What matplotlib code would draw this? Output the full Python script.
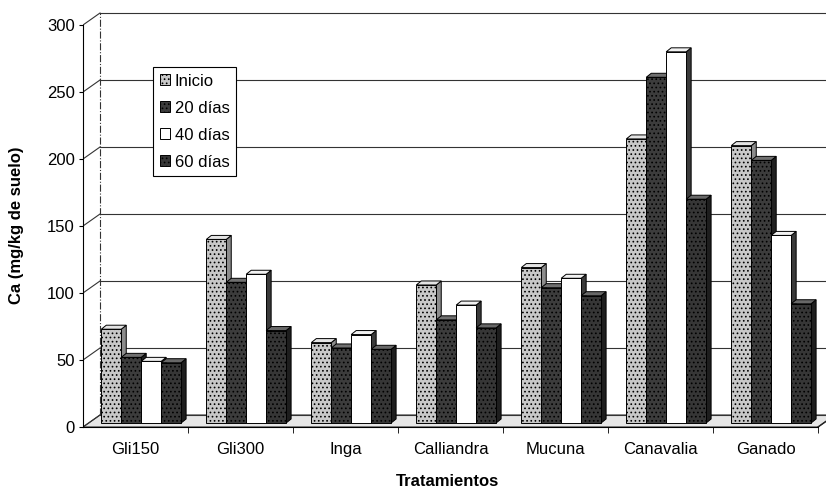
import numpy as np
import matplotlib.pyplot as plt
from matplotlib.patches import Polygon, Patch

plt.rcParams['font.family'] = ['Liberation Sans', 'DejaVu Sans']
plt.rcParams['hatch.linewidth'] = 0.7

# Ca en suelo por tratamiento y fecha de muestreo
tratamientos = ['Gli150', 'Gli300', 'Inga', 'Calliandra', 'Mucuna', 'Canavalia', 'Ganado']
series = ['Inicio', '20 días', '40 días', '60 días']
inicio = [70, 137, 60, 103, 116, 212, 207]
dias20 = [49, 105, 56, 77, 101, 258, 196]
dias40 = [46, 111, 66, 88, 108, 277, 140]
dias60 = [45, 69, 55, 71, 95, 167, 89]
yticks = [0, 50, 100, 150, 200, 250, 300]

valores = [inicio, dias20, dias40, dias60]
# colores de cara frontal, superior y lateral
estilos = [
    dict(front='#c8c8c8', top='#e4e4e4', side='#8c8c8c', hatch='....'),
    dict(front='#3c3c3c', top='#707070', side='#202020', hatch='....'),
    dict(front='#ffffff', top='#f2f2f2', side='#3a3a3a', hatch=None),
    dict(front='#363636', top='#686868', side='#1e1e1e', hatch='....'),
]

fig = plt.figure(figsize=(8.26, 4.90), dpi=100)
ax = fig.add_axes([83/826, 63/490, 743/826, 422/490])
n = len(tratamientos)
ax.set_xlim(0, 743/105)
ax.set_ylim(0, 422/1.34)

# profundidad del efecto 3D (pared de fondo y barras)
pdx, pdy = 17/105, 12/1.34
bx, by = 5.7/105, 4/1.34
ddx, ddy = 5/105, 4/1.34
ancho = 0.19

# piso
ax.add_patch(Polygon([(0, 0), (n, 0), (n + pdx, pdy), (pdx, pdy)],
                     closed=True, facecolor='#e6e6e6', edgecolor='#333333',
                     lw=0.8, zorder=1))
# pared de fondo con lineas de division
for t in yticks:
    ax.plot([0, pdx], [t, t + pdy], color='#333333', lw=0.8, zorder=1.5)
    ax.plot([pdx, 10], [t + pdy, t + pdy], color='#333333', lw=0.8, zorder=1.5)
ax.plot([pdx, pdx], [pdy, 300 + pdy], color='#333333', lw=0.8, ls='-.', zorder=1.5)
ax.plot([n, n + pdx], [0, pdy], color='#222222', lw=1, zorder=1.5)

z = 3
for i in range(n):
    for s, vals in enumerate(valores):
        st = estilos[s]
        v = vals[i]
        x0 = i + 0.5 - 2 * ancho + s * ancho + bx
        y0 = by
        x1 = x0 + ancho
        y1 = y0 + v
        ax.add_patch(Polygon([(x1, y0), (x1 + ddx, y0 + ddy), (x1 + ddx, y1 + ddy), (x1, y1)],
                             closed=True, facecolor=st['side'], edgecolor='black',
                             lw=0.7, zorder=z))
        ax.add_patch(Polygon([(x0, y1), (x0 + ddx, y1 + ddy), (x1 + ddx, y1 + ddy), (x1, y1)],
                             closed=True, facecolor=st['top'], edgecolor='black',
                             lw=0.7, zorder=z))
        ax.bar(x0, v, width=ancho, bottom=y0, align='edge', color=st['front'],
               edgecolor='black', lw=0.7, hatch=st['hatch'], zorder=z + 0.5)
        z += 1

# ejes
for lado in ['top', 'right']:
    ax.spines[lado].set_visible(False)
ax.spines['left'].set_bounds(0, 300)
ax.spines['bottom'].set_bounds(0, n)
ax.spines['left'].set_zorder(50)
ax.spines['bottom'].set_zorder(50)
ax.set_yticks(yticks)
ax.tick_params(axis='y', length=3, pad=3, labelsize=12)
ax.set_xticks(np.arange(n) + 0.5)
ax.set_xticklabels(tratamientos)
ax.set_xticks(np.arange(1, n + 1), minor=True)
ax.tick_params(axis='x', which='major', length=0, pad=11, labelsize=12)
ax.tick_params(axis='x', which='minor', length=4)

fig.text(17/826, 1 - 225/490, 'Ca (mg/kg de suelo)', rotation=90,
         ha='center', va='center', fontsize=12, fontweight='bold')
fig.text(447/826, 1 - 481/490, 'Tratamientos', ha='center', va='center',
         fontsize=12, fontweight='bold')

handles = [Patch(facecolor=st['front'], edgecolor='black', hatch=st['hatch'], lw=0.7)
           for st in estilos]
leg = ax.legend(handles, series, loc='upper left', bbox_to_anchor=(70/743, 360/422),
                borderaxespad=0, fontsize=12, frameon=True, fancybox=False,
                edgecolor='black', framealpha=1, handlelength=0.6, handleheight=0.6,
                handletextpad=0.3, labelspacing=0.72, borderpad=0.4)
leg.get_frame().set_linewidth(0.8)
leg.set_zorder(100)

fig.savefig('out.png', dpi=100)
